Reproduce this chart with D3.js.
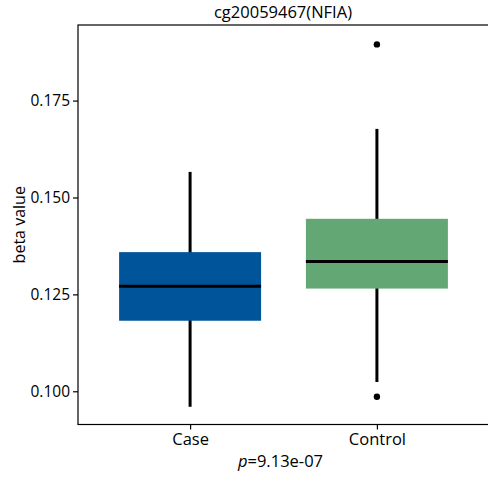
<!DOCTYPE html>
<html><head><meta charset="utf-8">
<script src="https://cdn.jsdelivr.net/npm/d3@7"></script>
<style>body{margin:0;background:#fff}svg{display:block}text{font-family:"Open Sans",sans-serif;fill:#000}</style>
</head><body>
<script>
const categories = ["Case","Control"];
const colors = ["#005499","#63A874"];
const q1 = [0.1182,0.1265];
const median = [0.1271,0.1335];
const q3 = [0.1359,0.1445];
const whiskerLow = [0.0960,0.1024];
const whiskerHigh = [0.1566,0.1677];
const outliers = [[],[0.0986,0.1895]];
const yTicks = [0.100,0.125,0.150,0.175];
const title = "cg20059467(NFIA)";

const W=488,H=477;
const svg=d3.select("body").append("svg").attr("width",W).attr("height",H);
const L=78,R=489,T=25,B=424.5;
// ggplot-like discrete axis: centers at 0.6 and 1.6 units out of 2.2
const xc=d3.scalePoint().domain(categories).range([L+(R-L)*0.6/2.2,R-(R-L)*0.6/2.2]);
const step=(R-L)/2.2;
const bw=step*0.76;
const y=d3.scaleLinear().domain([0.09143,0.1945]).range([B,T]);

svg.append("rect").attr("x",L).attr("y",T).attr("width",R-L).attr("height",B-T)
  .attr("fill","none").attr("stroke","#000").attr("stroke-width",1.2);

const g=svg.selectAll(".box").data(categories).enter().append("g");
g.append("line").attr("x1",d=>xc(d)).attr("x2",d=>xc(d))
  .attr("y1",(d,i)=>y(whiskerLow[i])).attr("y2",(d,i)=>y(whiskerHigh[i]))
  .attr("stroke","#000").attr("stroke-width",3);
g.append("rect").attr("x",d=>xc(d)-bw/2).attr("width",bw)
  .attr("y",(d,i)=>y(q3[i])).attr("height",(d,i)=>y(q1[i])-y(q3[i]))
  .attr("fill",(d,i)=>colors[i]);
g.append("line").attr("x1",d=>xc(d)-bw/2).attr("x2",d=>xc(d)+bw/2)
  .attr("y1",(d,i)=>y(median[i])).attr("y2",(d,i)=>y(median[i]))
  .attr("stroke","#000").attr("stroke-width",3);
categories.forEach((c,i)=>{
  svg.selectAll(null).data(outliers[i]).enter().append("circle")
    .attr("cx",xc(c)).attr("cy",d=>y(d)).attr("r",3.2).attr("fill","#000");
});

const ya=svg.append("g").attr("transform",`translate(${L},0)`)
  .call(d3.axisLeft(y).tickValues(yTicks).tickFormat(d3.format(".3f")).tickSize(5).tickPadding(3));
ya.select(".domain").remove();
ya.selectAll("line").attr("stroke-width",1.2);
ya.selectAll("text").style("font-size","15.5px").style("font-family","'Open Sans',sans-serif").attr("fill","#000");
const xa=svg.append("g").attr("transform",`translate(0,${B})`)
  .call(d3.axisBottom(xc).tickSize(5).tickPadding(4));
xa.select(".domain").remove();
xa.selectAll("line").attr("stroke-width",1.2);
xa.selectAll("text").style("font-size","16.5px").style("font-family","'Open Sans',sans-serif").attr("fill","#000");

svg.append("text").attr("x",(L+R)/2-0.5).attr("y",18).attr("text-anchor","middle")
  .style("font-size","16.5px").text(title);
svg.append("text").attr("transform",`translate(25,${(T+B)/2}) rotate(-90)`).attr("text-anchor","middle")
  .style("font-size","16px").text("beta value");
const pt=svg.append("text").attr("x",(L+R)/2-3).attr("y",467).attr("text-anchor","middle").style("font-size","16.5px");
pt.append("tspan").style("font-style","italic").text("p");
pt.append("tspan").text("=9.13e-07");
</script>
</body></html>
